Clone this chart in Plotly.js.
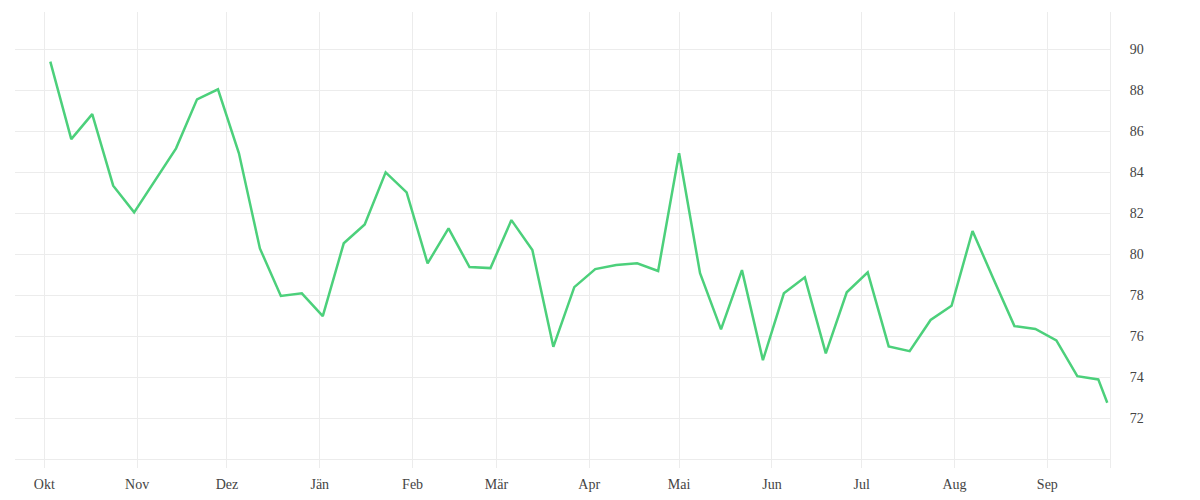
<!DOCTYPE html>
<html>
<head>
<meta charset="utf-8">
<script src="https://cdn.plot.ly/plotly-3.0.1.min.js"></script>
<style>
  html, body { margin: 0; padding: 0; background: #fff; }
  #chart { width: 1200px; height: 500px; }
</style>
</head>
<body>
<div id="chart"></div>
<script>
// weekly readings, last one is a partial week
const dates = [
  '2022-10-03', '2022-10-10', '2022-10-17', '2022-10-24', '2022-10-31',
  '2022-11-07', '2022-11-14', '2022-11-21', '2022-11-28',
  '2022-12-05', '2022-12-12', '2022-12-19', '2022-12-26',
  '2023-01-02', '2023-01-09', '2023-01-16', '2023-01-23', '2023-01-30',
  '2023-02-06', '2023-02-13', '2023-02-20', '2023-02-27',
  '2023-03-06', '2023-03-13', '2023-03-20', '2023-03-27',
  '2023-04-03', '2023-04-10', '2023-04-17', '2023-04-24',
  '2023-05-01', '2023-05-08', '2023-05-15', '2023-05-22', '2023-05-29',
  '2023-06-05', '2023-06-12', '2023-06-19', '2023-06-26',
  '2023-07-03', '2023-07-10', '2023-07-17', '2023-07-24', '2023-07-31',
  '2023-08-07', '2023-08-14', '2023-08-21', '2023-08-28',
  '2023-09-04', '2023-09-11', '2023-09-18', '2023-09-21'
];
const values = [
  89.40, 85.62, 86.84, 83.35, 82.05,
  83.62, 85.17, 87.56, 88.05,
  84.93, 80.29, 77.97, 78.10,
  76.99, 80.54, 81.46, 84.00, 83.02,
  79.56, 81.27, 79.38, 79.33,
  81.67, 80.21, 75.49, 78.40,
  79.28, 79.48, 79.56, 79.19,
  84.93, 79.08, 76.34, 79.23, 74.84,
  78.10, 78.88, 75.17, 78.15,
  79.12, 75.51, 75.28, 76.80, 77.49,
  81.14, 78.80, 76.50, 76.36,
  75.80, 74.06, 73.90, 72.76
];

const monthTicks = [
  '2022-10-01', '2022-11-01', '2022-12-01', '2023-01-01', '2023-02-01', '2023-03-01',
  '2023-04-01', '2023-05-01', '2023-06-01', '2023-07-01', '2023-08-01', '2023-09-01'
];
const monthLabels = ['Okt', 'Nov', 'Dez', 'Jän', 'Feb', 'Mär', 'Apr', 'Mai', 'Jun', 'Jul', 'Aug', 'Sep'];

const yTickVals = [70, 72, 74, 76, 78, 80, 82, 84, 86, 88, 90];
const yTickText = ['', '72', '74', '76', '78', '80', '82', '84', '86', '88', '90'];

const GRID = '#ececec';
const FONT = { family: '"Liberation Serif", "DejaVu Serif", serif', size: 14, color: '#444' };

const data = [{
  x: dates,
  y: values,
  type: 'scatter',
  mode: 'lines',
  line: { color: '#4cd07b', width: 2.5 },
  hoverinfo: 'x+y'
}];

const layout = {
  width: 1200,
  height: 500,
  paper_bgcolor: '#fff',
  plot_bgcolor: '#fff',
  font: FONT,
  showlegend: false,
  margin: { l: 15, r: 90, t: 12, b: 32 },
  xaxis: {
    type: 'date',
    range: ['2022-09-21 05:00', '2023-09-21 22:00'],
    tickmode: 'array',
    tickvals: monthTicks,
    ticktext: monthLabels,
    showgrid: true,
    gridcolor: GRID,
    gridwidth: 1,
    zeroline: false,
    showline: false,
    ticks: '',
    ticklabelstandoff: 6,
    tickfont: FONT
  },
  yaxis: {
    side: 'right',
    range: [69.58, 91.82],
    tickmode: 'array',
    tickvals: yTickVals,
    ticktext: yTickText,
    showgrid: true,
    gridcolor: GRID,
    gridwidth: 1,
    zeroline: false,
    showline: true,
    linecolor: GRID,
    linewidth: 1,
    ticks: '',
    ticklabelstandoff: 16,
    tickfont: FONT
  }
};

Plotly.newPlot('chart', data, layout, { displayModeBar: false, staticPlot: true });
</script>
</body>
</html>
